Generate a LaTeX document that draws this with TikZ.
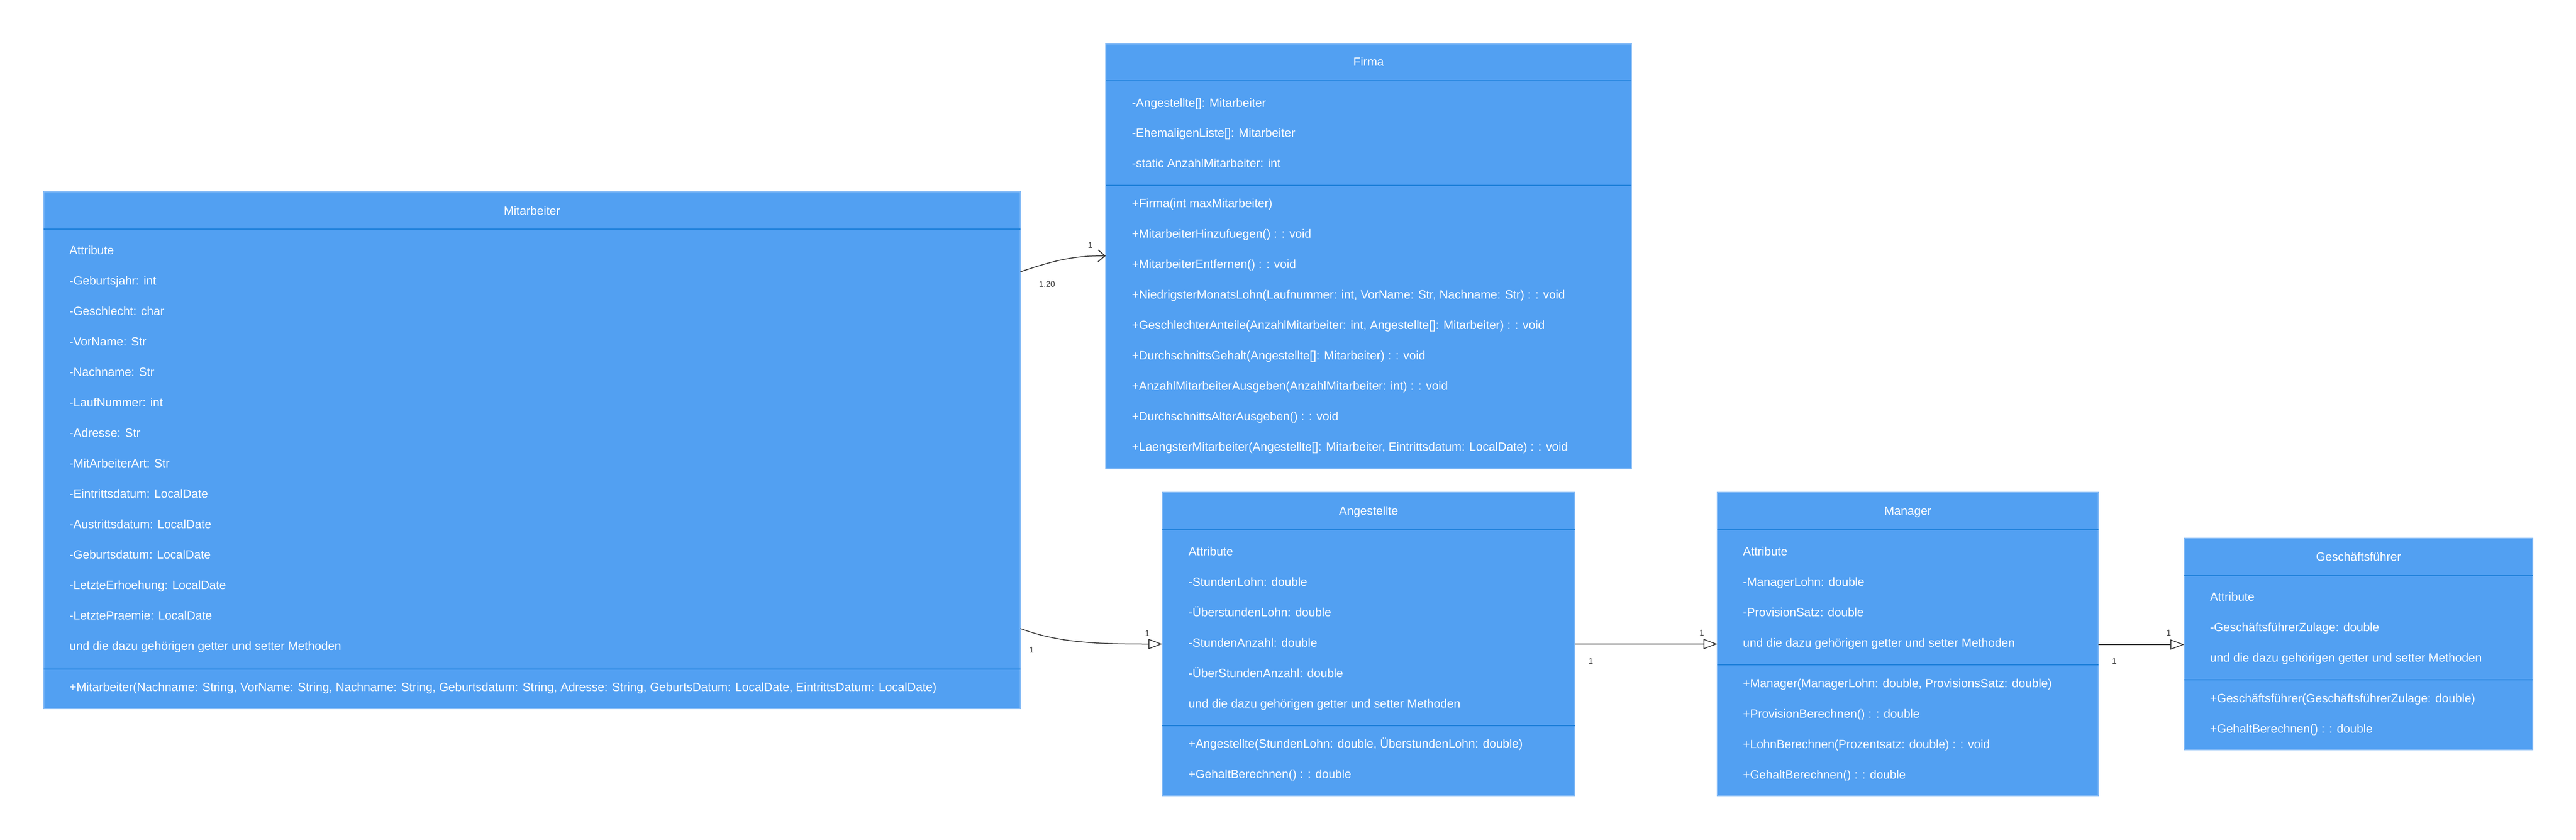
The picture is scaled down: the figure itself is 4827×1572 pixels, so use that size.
\documentclass[tikz,border=0pt]{standalone}
\usepackage{fontspec}
\setmainfont{Liberation Sans}
\usetikzlibrary{arrows.meta,calc}
\definecolor{boxfill}{RGB}{82,160,242}
\definecolor{boxline}{RGB}{135,188,246}
\definecolor{divline}{RGB}{30,128,218}
\definecolor{edgecol}{RGB}{51,51,51}
\newcommand\rowfont{\fontsize{22.4}{27}\selectfont}
\newcommand\lblfont{\fontsize{15.5}{18}\selectfont}
% #1 name prefix, #2 x, #3 first row center y, #4 step, #5 list
\newcommand\classrows[5]{%
  \foreach \t [count=\i] in {#5} {%
    \node[rowtext] (#1-\i) at ({#2},{#3+#4*(\i-1)+8}) {\t};}}
\begin{document}
\begin{tikzpicture}[x=1pt,y=-1pt,
  classbox/.style={draw=boxline, line width=1.5pt, fill=boxfill, inner sep=0pt, outer sep=0pt, anchor=north west},
  divider/.style={draw=divline, line width=2.2pt},
  rowtext/.style={anchor=base west, inner sep=0pt, text=white, font=\rowfont},
  classtitle/.style={anchor=base, inner sep=0pt, text=white, font=\rowfont},
  edge/.style={draw=edgecol, line width=1.5pt},
  lbl/.style={inner sep=0pt, text=edgecol, font=\lblfont},
  assoc/.style={edge, -{Straight Barb[length=13pt,width=22pt,line width=1.8pt]}},
  inherit/.style={edge, -{Triangle[length=26pt,width=19pt,fill=white,line width=1.5pt]}}]
\useasboundingbox (0,0) rectangle (4827,1572);

% ---------- Mitarbeiter ----------
\node[classbox, minimum width=1830pt, minimum height=968pt] (mit) at (82,359) {};
\draw[divider] (82,429) -- (1912,429);
\draw[divider] (82,1253) -- (1912,1253);
\node[classtitle] (mit-t) at (997,402) {Mitarbeiter};
\classrows{mita}{130}{468}{57}{{Attribute},{-Geburtsjahr: int},{-Geschlecht: char},{-VorName: Str},{-Nachname: Str},{-LaufNummer: int},{-Adresse: Str},{-MitArbeiterArt: Str},{-Eintrittsdatum: LocalDate},{-Austrittsdatum: LocalDate},{-Geburtsdatum: LocalDate},{-LetzteErhoehung: LocalDate},{-LetztePraemie: LocalDate},{und die dazu gehörigen getter und setter Methoden}}
\classrows{mitm}{130}{1286}{57}{{+Mitarbeiter(Nachname: String, VorName: String, Nachname: String, Geburtsdatum: String, Adresse: String, GeburtsDatum: LocalDate, EintrittsDatum: LocalDate)}}

% ---------- Firma ----------
\node[classbox, minimum width=985pt, minimum height=796pt] (firma) at (2072,82) {};
\draw[divider] (2072,151) -- (3057,151);
\draw[divider] (2072,347) -- (3057,347);
\node[classtitle] (firma-t) at (2564.5,123) {Firma};
\classrows{firmaa}{2121}{192}{56.5}{{-Angestellte[]: Mitarbeiter},{-EhemaligenListe[]: Mitarbeiter},{-static AnzahlMitarbeiter: int}}
\classrows{firmam}{2121}{380}{57}{{+Firma(int maxMitarbeiter)},{+MitarbeiterHinzufuegen() : : void},{+MitarbeiterEntfernen() : : void},{+NiedrigsterMonatsLohn(Laufnummer: int, VorName: Str, Nachname: Str) : : void},{+GeschlechterAnteile(AnzahlMitarbeiter: int, Angestellte[]: Mitarbeiter) : : void},{+DurchschnittsGehalt(Angestellte[]: Mitarbeiter) : : void},{+AnzahlMitarbeiterAusgeben(AnzahlMitarbeiter: int) : : void},{+DurchschnittsAlterAusgeben() : : void},{+LaengsterMitarbeiter(Angestellte[]: Mitarbeiter, Eintrittsdatum: LocalDate) : : void}}

% ---------- Angestellte ----------
\node[classbox, minimum width=773pt, minimum height=568pt] (ang) at (2178,922) {};
\draw[divider] (2178,992) -- (2951,992);
\draw[divider] (2178,1359) -- (2951,1359);
\node[classtitle] (ang-t) at (2564.5,964) {Angestellte};
\classrows{anga}{2227}{1032}{57}{{Attribute},{-StundenLohn: double},{-ÜberstundenLohn: double},{-StundenAnzahl: double},{-ÜberStundenAnzahl: double},{und die dazu gehörigen getter und setter Methoden}}
\classrows{angm}{2227}{1392}{57}{{+Angestellte(StundenLohn: double, ÜberstundenLohn: double)},{+GehaltBerechnen() : : double}}

% ---------- Manager ----------
\node[classbox, minimum width=714pt, minimum height=568pt] (man) at (3218,922) {};
\draw[divider] (3218,992) -- (3932,992);
\draw[divider] (3218,1245) -- (3932,1245);
\node[classtitle] (man-t) at (3575,964) {Manager};
\classrows{mana}{3266}{1032}{57}{{Attribute},{-ManagerLohn: double},{-ProvisionSatz: double},{und die dazu gehörigen getter und setter Methoden}}
\classrows{manm}{3266}{1279}{57}{{+Manager(ManagerLohn: double, ProvisionsSatz: double)},{+ProvisionBerechnen() : : double},{+LohnBerechnen(Prozentsatz: double) : : void},{+GehaltBerechnen() : : double}}

% ---------- Geschäftsführer ----------
\node[classbox, minimum width=653pt, minimum height=396pt] (gf) at (4093,1008) {};
\draw[divider] (4093,1078) -- (4746,1078);
\draw[divider] (4093,1273) -- (4746,1273);
\node[classtitle] (gf-t) at (4419.5,1050) {Geschäftsführer};
\classrows{gfa}{4141}{1117}{57}{{Attribute},{-GeschäftsführerZulage: double},{und die dazu gehörigen getter und setter Methoden}}
\classrows{gfm}{4141}{1307}{57}{{+Geschäftsführer(GeschäftsführerZulage: double)},{+GehaltBerechnen() : : double}}

% ---------- Connectors ----------
\draw[assoc] ($(mit.north east)+(0,150)$) .. controls +(70,-24) and +(-55,0) .. ($(firma.north west)+(0,397)$);
\node[lbl] (l1a) at (2043,459) {1};
\node[lbl] (l1b) at (1962,532) {1.20};

\draw[inherit] ($(mit.north east)+(0,818)$) .. controls +(70,26) and +(-130,0) .. ($(ang.north west)+(0,284)$);
\node[lbl] (l2a) at (2150,1186) {1};
\node[lbl] (l2b) at (1933,1217) {1};

\draw[inherit] ($(ang.north east)+(0,284)$) -- ($(man.north west)+(0,284)$);
\node[lbl] (l3a) at (3189,1185) {1};
\node[lbl] (l3b) at (2981,1238) {1};

\draw[inherit] ($(man.north east)+(0,285)$) -- ($(gf.north west)+(0,199)$);
\node[lbl] (l4a) at (4064,1185) {1};
\node[lbl] (l4b) at (3962,1238) {1};
\end{tikzpicture}
\end{document}
